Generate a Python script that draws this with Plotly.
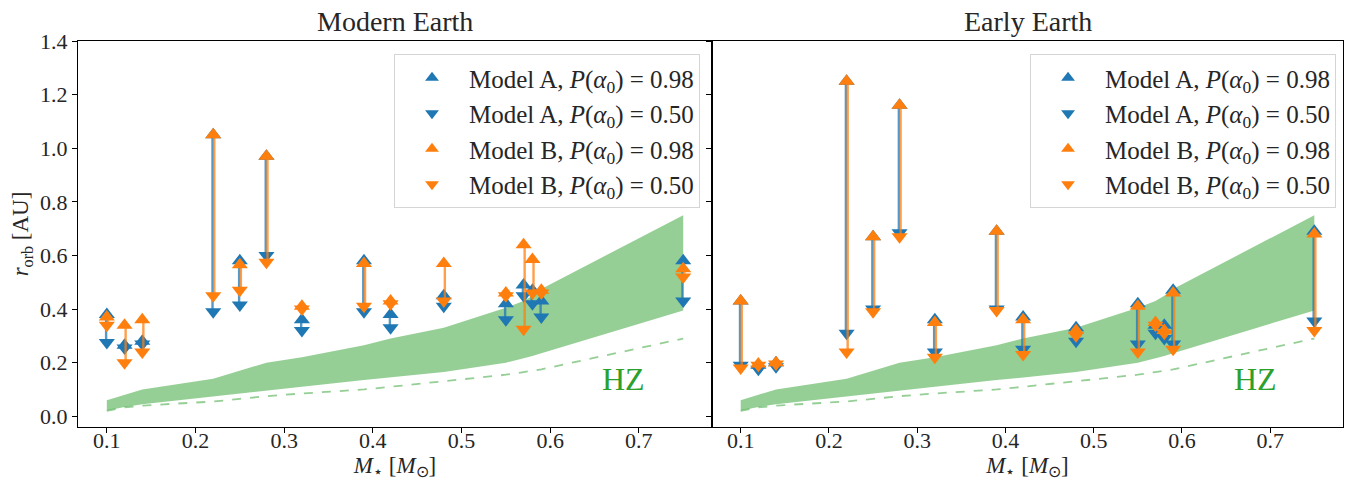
import plotly.graph_objects as go

# ---------------- data ----------------
mass = [0.10, 0.12, 0.14, 0.22, 0.25, 0.28, 0.32, 0.39, 0.42, 0.48, 0.55, 0.57, 0.58, 0.59, 0.75]

modern_a_hi = [0.38, 0.265, 0.28, 1.05, 0.58, 0.97, 0.36, 0.58, 0.38, 0.45, 0.42, 0.49, 0.47, 0.43, 0.58]
modern_a_lo = [0.275, 0.255, 0.27, 0.39, 0.415, 0.60, 0.32, 0.39, 0.33, 0.41, 0.36, 0.45, 0.42, 0.37, 0.43]
modern_b_hi = [0.37, 0.34, 0.36, 1.05, 0.565, 0.97, 0.41, 0.57, 0.43, 0.57, 0.46, 0.64, 0.585, 0.47, 0.55]
modern_b_lo = [0.34, 0.20, 0.24, 0.45, 0.47, 0.575, 0.40, 0.41, 0.42, 0.43, 0.45, 0.325, 0.46, 0.46, 0.52]

early_a_hi = [0.43, 0.19, 0.20, 1.25, 0.67, 1.16, 0.36, 0.69, 0.37, 0.33, 0.42, 0.34, 0.34, 0.47, 0.69]
early_a_lo = [0.19, 0.175, 0.185, 0.31, 0.40, 0.685, 0.24, 0.40, 0.25, 0.28, 0.27, 0.31, 0.29, 0.27, 0.355]
early_b_hi = [0.43, 0.195, 0.20, 1.25, 0.67, 1.16, 0.35, 0.69, 0.36, 0.32, 0.41, 0.35, 0.32, 0.46, 0.68]
early_b_lo = [0.18, 0.19, 0.195, 0.24, 0.39, 0.67, 0.22, 0.395, 0.23, 0.30, 0.24, 0.34, 0.31, 0.25, 0.32]

hz_outer = [0.06, 0.08, 0.10, 0.14, 0.17, 0.20, 0.22, 0.265, 0.29, 0.33, 0.405, 0.43, 0.45, 0.475, 0.75]
hz_inner = [0.022, 0.035, 0.045, 0.075, 0.085, 0.095, 0.11, 0.135, 0.145, 0.165, 0.20, 0.215, 0.225, 0.235, 0.395]
hz_dashed = [0.02, 0.033, 0.04, 0.055, 0.065, 0.075, 0.085, 0.10, 0.11, 0.13, 0.155, 0.165, 0.17, 0.175, 0.29]

panel_titles = ["Modern Earth", "Early Earth"]
legend_labels = [
    "Model A, <i>P</i>(<i>α</i><sub>0</sub>) = 0.98",
    "Model A, <i>P</i>(<i>α</i><sub>0</sub>) = 0.50",
    "Model B, <i>P</i>(<i>α</i><sub>0</sub>) = 0.98",
    "Model B, <i>P</i>(<i>α</i><sub>0</sub>) = 0.50",
]
x_ticks = [0.1, 0.2, 0.3, 0.4, 0.5, 0.6, 0.7]
y_ticks = [0.0, 0.2, 0.4, 0.6, 0.8, 1.0, 1.2, 1.4]

BLUE = "#1f77b4"
ORANGE = "#ff7f0e"
GREEN = "#2ca02c"
FONT = "Liberation Serif"
TXT = "#262626"

fig = go.Figure()

panels = [
    ("x", "y", "legend", modern_a_hi, modern_a_lo, modern_b_hi, modern_b_lo),
    ("x2", "y2", "legend2", early_a_hi, early_a_lo, early_b_hi, early_b_lo),
]

def segs(xs, lo, hi, dx):
    sx, sy = [], []
    for x, a, b in zip(xs, lo, hi):
        sx += [x + dx, x + dx, None]
        sy += [a, b, None]
    return sx, sy

for xa, ya, leg, a_hi, a_lo, b_hi, b_lo in panels:
    # HZ band
    fig.add_trace(go.Scatter(x=mass, y=hz_inner, mode="lines", line=dict(width=0),
                             xaxis=xa, yaxis=ya, showlegend=False, hoverinfo="skip"))
    fig.add_trace(go.Scatter(x=mass, y=hz_outer, mode="lines", line=dict(width=0),
                             fill="tonexty", fillcolor="rgba(44,160,44,0.5)",
                             xaxis=xa, yaxis=ya, showlegend=False, hoverinfo="skip"))
    fig.add_trace(go.Scatter(x=mass, y=hz_dashed, mode="lines",
                             line=dict(color="rgba(44,160,44,0.5)", width=1.8, dash="dash"),
                             xaxis=xa, yaxis=ya, showlegend=False, hoverinfo="skip"))
    for color, hi, lo, lab_hi, lab_lo, dx in [
        (BLUE, a_hi, a_lo, legend_labels[0], legend_labels[1], -0.0008),
        (ORANGE, b_hi, b_lo, legend_labels[2], legend_labels[3], 0.0012),
    ]:
        sx, sy = segs(mass, lo, hi, dx)
        fig.add_trace(go.Scatter(x=sx, y=sy, mode="lines", line=dict(color=color, width=2.4),
                                 opacity=0.75, xaxis=xa, yaxis=ya, showlegend=False,
                                 hoverinfo="skip"))
        fig.add_trace(go.Scatter(x=mass, y=hi, mode="markers", name=lab_hi,
                                 marker=dict(symbol="triangle-up", size=14, color=color,
                                             line=dict(width=0)),
                                 xaxis=xa, yaxis=ya, legend=leg))
        fig.add_trace(go.Scatter(x=mass, y=lo, mode="markers", name=lab_lo,
                                 marker=dict(symbol="triangle-down", size=14, color=color,
                                             line=dict(width=0)),
                                 xaxis=xa, yaxis=ya, legend=leg))

axis_common = dict(
    showline=True, linecolor="black", linewidth=1.3, mirror=True,
    ticks="outside", ticklen=5, tickwidth=1.1, tickcolor="black",
    showgrid=False, zeroline=False, automargin=False,
    tickfont=dict(family=FONT, size=22, color=TXT),
)

xtitle = dict(text="<i>M</i><sub>⋆</sub> [<i>M</i><sub>⊙</sub>]",
              font=dict(family=FONT, size=23, color=TXT), standoff=0)

legend_common = dict(
    y=0.966, xanchor="right", yanchor="top",
    bgcolor="rgba(255,255,255,0.8)", bordercolor="#d5d5d5", borderwidth=1,
    font=dict(family=FONT, size=25, color=TXT),
    tracegroupgap=2, itemsizing="constant", traceorder="normal", itemwidth=64,
)

fig.update_layout(
    width=1345, height=485,
    margin=dict(l=78, r=2, t=41, b=58),
    plot_bgcolor="white", paper_bgcolor="white",
    font=dict(family=FONT, color=TXT),
    xaxis=dict(domain=[0, 0.5012], range=[0.0675, 0.7825], tickvals=x_ticks,
               tickformat=".1f", title=xtitle, ticklabelstandoff=-12, **axis_common),
    xaxis2=dict(domain=[0.5012, 1.0], range=[0.0675, 0.7825], tickvals=x_ticks,
                tickformat=".1f", anchor="y2", title=xtitle, ticklabelstandoff=-12,
                **axis_common),
    yaxis=dict(range=[-0.04, 1.4], tickvals=y_ticks, tickformat=".1f",
               title=dict(text="<i>r</i><sub>orb</sub> [AU]",
                          font=dict(family=FONT, size=23, color=TXT), standoff=4),
               **axis_common),
    yaxis2=dict(range=[-0.04, 1.4], tickvals=y_ticks, showticklabels=False,
                anchor="x2", matches="y", **axis_common),
    legend=dict(x=0.4917, **legend_common),
    legend2=dict(x=0.9945, **legend_common),
    showlegend=True,
)

for i, t in enumerate(panel_titles):
    fig.add_annotation(text=t, xref=f"x{'' if i == 0 else '2'} domain", yref="paper",
                       x=0.5, y=1.0, yshift=2, xanchor="center", yanchor="bottom",
                       showarrow=False, font=dict(family=FONT, size=28, color=TXT))
    fig.add_annotation(text="HZ", xref="x" if i == 0 else "x2", yref="y" if i == 0 else "y2",
                       x=0.683, y=0.14, showarrow=False,
                       font=dict(family=FONT, size=32, color=GREEN))

fig.write_html("out.html",
               config={"displayModeBar": False},
               post_script="document.body.style.margin='0px';document.body.style.overflow='hidden';")
